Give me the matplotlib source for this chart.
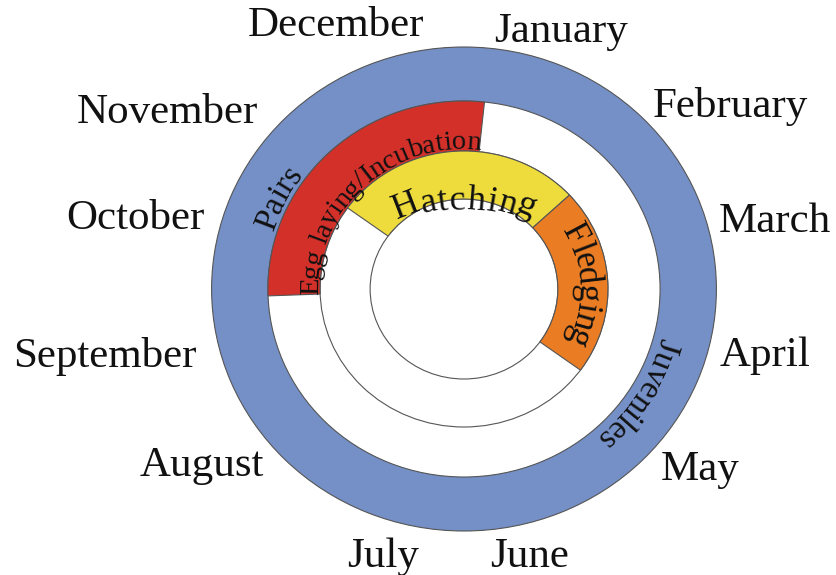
import numpy as np
import matplotlib
matplotlib.use("Agg")
import matplotlib.pyplot as plt
from matplotlib.patches import Wedge, Circle
from matplotlib.font_manager import FontProperties, findfont, get_font

# ---------------- data ----------------
months = ["January", "February", "March", "April", "May", "June",
          "July", "August", "September", "October", "November", "December"]

# phases in month units (0 = 1 January, clockwise, 12 = one full year)
band_names = ["Pairs/Juveniles", "Egg laying/Incubation", "Hatching", "Fledging"]
band_start = [0.0, 8.93, 10.2, 1.57]
band_end = [12.0, 12.2, 13.57, 4.2]

# ---------------- layout / style ----------------
FAMILY = "Liberation Serif"
W, H = 836, 575
CX, CY = 464, 289          # ring centre in pixels
K = 1.043                  # horizontal stretch of the rings
band_r = [(188, 242), (138, 188), (90, 138), (90, 138)]
band_col = ["#7590C7", "#D3302A", "#EEDC3C", "#EA7D24"]
EDGE = "#555555"

label_ang = [19.6, 53.9, 76.6, 102.3, 127.9, 166.6, 196.4, 235.4, 259.6, 283.2, 302.4, 335.3]
label_rad = [277, 316, 306, 295, 287, 271, 275, 305, 350, 324, 337, 294]
LABEL_DY = -4

fig = plt.figure(figsize=(W / 100, H / 100), dpi=100)
ax = fig.add_axes([0, 0, 1, 1])
ax.set_xlim(-CX / K, (W - CX) / K)
ax.set_ylim(-(H - CY), CY)
ax.axis("off")


def deg_of(month):
    return month * 30.0


def pol(a_deg, r):
    a = np.radians(a_deg)
    return r * np.sin(a), r * np.cos(a)


# bands
for (r_in, r_out), s, e, col in zip(band_r, band_start, band_end, band_col):
    a1, a2 = deg_of(s), deg_of(e)
    ax.add_patch(Wedge((0, 0), r_out, 90 - a2, 90 - a1, width=r_out - r_in,
                       facecolor=col, edgecolor=EDGE, lw=0.8, zorder=2))

# guide circles
for r in (138, 90):
    ax.add_patch(Circle((0, 0), r, fill=False, edgecolor=EDGE, lw=0.8, zorder=1))

# month labels
for m, a, r in zip(months, label_ang, label_rad):
    x, y = pol(a, r)
    ax.text(x, y + LABEL_DY, m, ha="center", va="center", fontsize=31,
            family=FAMILY, color="#111111")

# curved text
font = get_font(findfont(FontProperties(family=FAMILY)))


def curved_text(s, center_deg, r_base, size_pt, arc_r=None, rot_gain=1.0, sp=0.25):
    font.set_size(size_pt, 100)
    advs = [font.load_char(ord(c)).linearHoriAdvance / 65536.0 for c in s]
    em = size_pt * 100 / 72.0
    total = sum(advs)
    R = arc_r if arc_r else r_base
    Rs = R + sp * em          # radius at which letter spacing is measured
    dy = r_base - R
    cum = -total / 2.0
    for c, w in zip(s, advs):
        mid = cum + w / 2.0
        a = center_deg + np.degrees(mid / Rs)
        ar = np.radians(a)
        x, y = R * np.sin(ar), dy + R * np.cos(ar)
        rot = np.degrees(np.arctan2(-np.sin(ar), K * np.cos(ar))) * rot_gain
        ax.text(x, y, c, rotation=rot, rotation_mode="anchor", ha="center",
                va="baseline", fontsize=size_pt, family=FAMILY, color="#111111", zorder=5)
        cum += w


curved_text("Pairs", -63, 192, 24)
curved_text("Juveniles", 122, 194, 24)
curved_text("Egg laying/Incubation", -43, 140, 20.5)
curved_text("Hatching", 0, 79, 26, arc_r=360, rot_gain=2.6, sp=0)
curved_text("Fledging", 88, 110, 25)

fig.savefig("out.png", dpi=100)
